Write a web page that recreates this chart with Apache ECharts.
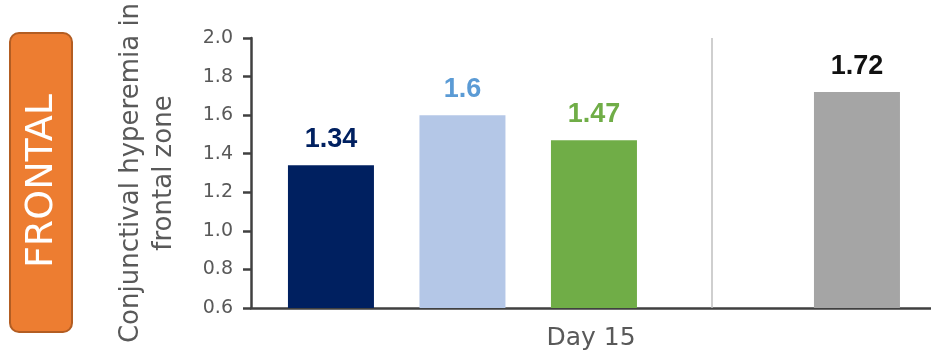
<!DOCTYPE html>
<html>
<head>
<meta charset="utf-8">
<script src="https://cdn.jsdelivr.net/npm/echarts@6/dist/echarts.min.js"></script>
<style>
  html, body { margin: 0; padding: 0; background: #fff; }
  #chart { width: 931px; height: 358px; }
</style>
</head>
<body>
<div id="chart"></div>
<script>
// groups shown at Day 15 (slot = category index on the x scale, slot 4 left empty)
var groups = ['Group 1', 'Group 2', 'Group 3', 'Group 4'];
var slots = [1, 2, 3, 5];
var values = [1.34, 1.6, 1.47, 1.72];
var yTicks = [0.6, 0.8, 1.0, 1.2, 1.4, 1.6, 1.8, 2.0];
var xName = 'Day 15';
var yName = 'Conjunctival hyperemia in\nfrontal zone';
var sideLabel = 'FRONTAL';

var barColors = ['#002060', '#B4C7E7', '#70AD47', '#A5A5A5'];
var labelColors = ['#002060', '#5B9BD5', '#70AD47', '#111111'];

function buildData() {
    var out = [];
    for (var i = 0; i < values.length; i++) {
        out.push({
            name: groups[i],
            value: [slots[i], values[i]],
            itemStyle: { color: barColors[i] },
            label: { color: labelColors[i] }
        });
    }
    return out;
}

var chart = echarts.init(document.getElementById('chart'));
var option = {
    animation: false,
    grid: {
        left: 251,
        right: 0,
        top: 38,
        bottom: 50,
        outerBoundsMode: 'none'
    },
    xAxis: {
        type: 'value',
        min: 0.392,
        max: 5.563,
        name: xName,
        nameLocation: 'middle',
        nameGap: 18,
        nameTextStyle: { fontFamily: 'DejaVu Sans', fontSize: 25, color: '#595959' },
        axisLine: { show: true, onZero: false, lineStyle: { color: '#404040', width: 2.5 } },
        axisTick: { show: false },
        axisLabel: { show: false },
        splitLine: { show: false }
    },
    yAxis: {
        type: 'value',
        min: yTicks[0],
        max: yTicks[yTicks.length - 1],
        interval: 0.2,
        name: yName,
        nameLocation: 'middle',
        nameRotate: 90,
        nameGap: 70,
        nameTextStyle: { fontFamily: 'DejaVu Sans', fontSize: 26, color: '#595959', lineHeight: 33 },
        axisLine: { show: true, lineStyle: { color: '#404040', width: 2.5 } },
        axisTick: { show: true, length: 8, lineStyle: { color: '#404040', width: 2.5 } },
        axisLabel: {
            margin: 18,
            fontFamily: 'DejaVu Sans',
            fontSize: 19,
            color: '#595959',
            formatter: function (v) { return v.toFixed(1); }
        },
        splitLine: { show: false }
    },
    series: [{
        type: 'bar',
        barWidth: 86,
        data: buildData(),
        label: {
            show: true,
            position: 'top',
            distance: 12,
            fontFamily: 'Liberation Sans',
            fontWeight: 'bold',
            fontSize: 27,
            formatter: function (p) { return p.value[1]; }
        },
        markLine: {
            silent: true,
            symbol: ['none', 'none'],
            label: { show: false },
            lineStyle: { color: '#BFBFBF', width: 1.5, type: 'solid' },
            data: [[{ coord: [3.897, 2.0] }, { coord: [3.897, 0.6] }]]
        }
    }],
    graphic: [{
        type: 'rect',
        shape: { x: 10, y: 33, width: 62, height: 299, r: 9 },
        style: { fill: '#ED7D31', stroke: '#B35D22', lineWidth: 2 }
    }, {
        type: 'text',
        x: 42,
        y: 181,
        rotation: Math.PI / 2,
        style: {
            text: sideLabel,
            fill: '#ffffff',
            font: '38px "DejaVu Sans"',
            textAlign: 'center',
            textVerticalAlign: 'middle'
        }
    }]
};
chart.setOption(option);
window.addEventListener('resize', function () {
    chart.resize();
});
</script>
</body>
</html>
